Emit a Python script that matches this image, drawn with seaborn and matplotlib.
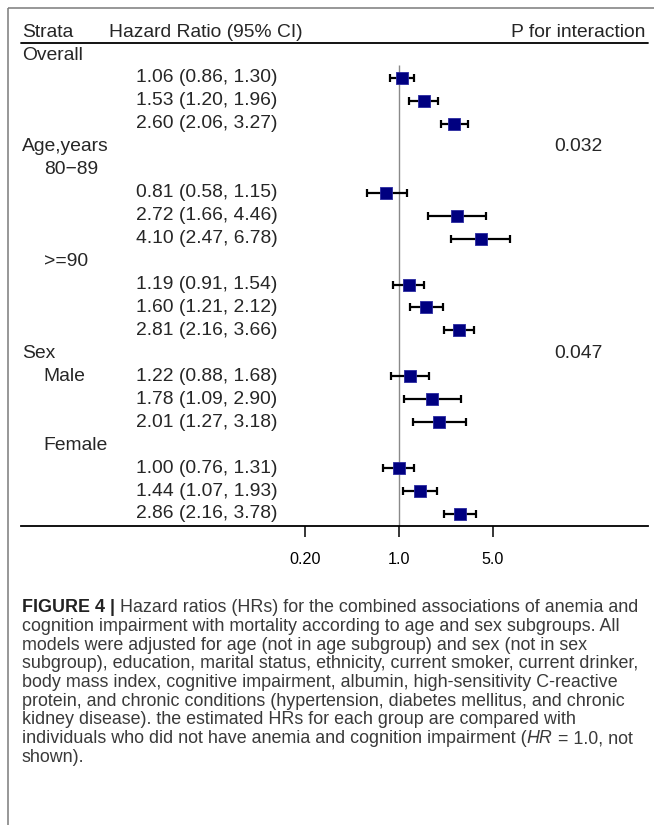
import numpy as np
import matplotlib
matplotlib.use("Agg")
import matplotlib.pyplot as plt
import matplotlib.transforms as mtransforms
from matplotlib.ticker import NullLocator
import seaborn as sns

sns.set_style("white")
plt.rcParams["font.family"] = ["Liberation Sans", "DejaVu Sans"]

# ---------------- data ----------------
row_labels = ["Overall", "", "", "", "Age,years", "80\u221289", "", "", "", ">=90", "", "", "",
              "Sex", "Male", "", "", "Female", "", "", ""]
label_indent = [0, 0, 0, 0, 0, 1, 0, 0, 0, 1, 0, 0, 0, 0, 1, 0, 0, 1, 0, 0, 0]
data_rows = [1, 2, 3, 6, 7, 8, 10, 11, 12, 14, 15, 16, 18, 19, 20]
hr = [1.06, 1.53, 2.60, 0.81, 2.72, 4.10, 1.19, 1.60, 2.81, 1.22, 1.78, 2.01, 1.00, 1.44, 2.86]
lower = [0.86, 1.20, 2.06, 0.58, 1.66, 2.47, 0.91, 1.21, 2.16, 0.88, 1.09, 1.27, 0.76, 1.07, 2.16]
upper = [1.30, 1.96, 3.27, 1.15, 4.46, 6.78, 1.54, 2.12, 3.66, 1.68, 2.90, 3.18, 1.31, 1.93, 3.78]
p_rows = [4, 13]
p_values = ["0.032", "0.047"]
xticks = [0.2, 1.0, 5.0]
xtick_labels = ["0.20", "1.0", "5.0"]
headers = ["Strata", "Hazard Ratio (95% CI)", "P for interaction"]

caption_lines = [
    [("FIGURE 4 |", "bold"), ("Hazard ratios (HRs) for the combined associations of anemia and", "normal")],
    [("cognition impairment with mortality according to age and sex subgroups. All", "normal")],
    [("models were adjusted for age (not in age subgroup) and sex (not in sex", "normal")],
    [("subgroup), education, marital status, ethnicity, current smoker, current drinker,", "normal")],
    [("body mass index, cognitive impairment, albumin, high-sensitivity C-reactive", "normal")],
    [("protein, and chronic conditions (hypertension, diabetes mellitus, and chronic", "normal")],
    [("kidney disease). the estimated HRs for each group are compared with", "normal")],
    [("individuals who did not have anemia and cognition impairment (", "normal"), ("HR", "italic"),
     ("= 1.0, not", "normal")],
    [("shown).", "normal")],
]

# ---------------- layout (pixels) ----------------
W, H = 654, 825
fig = plt.figure(figsize=(W / 100, H / 100), dpi=100)

ax_left, ax_right = 21, 648
ax_bottom_px = 525.5
row0_px, row_step = 55.0, 22.95
x_one_px, px_per_dec = 398.75, 134.2

ax = fig.add_axes([ax_left / W, 1 - ax_bottom_px / H, (ax_right - ax_left) / W, ax_bottom_px / H])
ax.set_xscale("log")
xl = 10 ** ((ax_left - x_one_px) / px_per_dec)
xr = 10 ** ((ax_right - x_one_px) / px_per_dec)
y_bot = (ax_bottom_px - row0_px) / row_step
y_top = (0 - row0_px) / row_step

def fx(px):
    return (px - ax_left) / (ax_right - ax_left)

def rowpx(px):
    return (px - row0_px) / row_step

trans = mtransforms.blended_transform_factory(ax.transAxes, ax.transData)

# reference line at HR = 1
ax.plot([1, 1], [rowpx(65), y_bot], color="#8a8a8a", lw=1.0, zorder=1, solid_capstyle="butt")

# CIs
hr_a, lo_a, hi_a = np.array(hr), np.array(lower), np.array(upper)
ax.errorbar(hr_a, data_rows, xerr=[hr_a - lo_a, hi_a - hr_a], fmt="none", ecolor="black",
            elinewidth=1.6, capsize=2.7, capthick=1.6, zorder=2)
sns.scatterplot(x=hr, y=data_rows, marker="s", s=80, color="#000080", edgecolor="#2a2aa0",
                linewidth=0.6, ax=ax, zorder=3, legend=False)

ax.set_xlim(xl, xr)
ax.set_ylim(y_bot, y_top)
ax.set_xlabel("")
ax.set_ylabel("")
ax.set_xticks(xticks)
ax.set_xticklabels(xtick_labels)
ax.xaxis.set_minor_locator(NullLocator())
ax.set_yticks([])
for s in ["top", "left", "right"]:
    ax.spines[s].set_visible(False)
ax.spines["bottom"].set_linewidth(1.3)
ax.spines["bottom"].set_color("black")
ax.tick_params(axis="x", which="major", bottom=True, length=8, width=1.1, pad=11, labelsize=11.6,
               colors="black", direction="out")
ax.patch.set_alpha(0)

fs = 13.9
# header
ax.text(fx(21.7), rowpx(32.5), headers[0], transform=trans, ha="left", va="center", fontsize=fs)
ax.text(fx(109), rowpx(32.5), headers[1], transform=trans, ha="left", va="center", fontsize=fs)
ax.text(fx(645.5), rowpx(32.5), headers[2], transform=trans, ha="right", va="center", fontsize=fs)
ax.plot([0, 1], [rowpx(42.5)] * 2, transform=trans, color="black", lw=1.3, clip_on=False)

# row labels
for i, (lab, ind) in enumerate(zip(row_labels, label_indent)):
    if lab:
        ax.text(fx(21.7 if ind == 0 else 43.7), i, lab, transform=trans, ha="left", va="center", fontsize=fs)
for r, h, lo, hi in zip(data_rows, hr, lower, upper):
    ax.text(fx(136), r, f"{h:.2f} ({lo:.2f}, {hi:.2f})", transform=trans, ha="left", va="center", fontsize=fs)
for r, p in zip(p_rows, p_values):
    ax.text(fx(578.5), r, p, transform=trans, ha="center", va="center", fontsize=fs)

# ---------------- caption & frame ----------------
cax = fig.add_axes([0, 0, 1, 1], zorder=-1)
cax.set_xlim(0, 1)
cax.set_ylim(0, 1)
cax.axis("off")

frame_col = "#7a7a7a"
cax.plot([7.5 / W, 1], [1 - 8 / H] * 2, color=frame_col, lw=1.1, solid_capstyle="butt")
cax.plot([7.5 / W] * 2, [1 - 8 / H, 0], color=frame_col, lw=1.1, solid_capstyle="butt")

cfs = 12.9
cap_col = "#3a3a3a"
space_pt = 0.278 * cfs
line0_px, line_step = 605.7, 18.72
for li, segs in enumerate(caption_lines):
    cy_px = line0_px + li * line_step
    base = 1 - (cy_px + 0.36 * cfs / 0.72) / H
    prev = None
    for si, (txt, style) in enumerate(segs):
        kw = dict(fontsize=cfs, color=cap_col if style != "bold" else "#222222",
                  fontweight="bold" if style == "bold" else "normal",
                  fontstyle="italic" if style == "italic" else "normal", va="baseline", ha="left")
        if prev is None:
            prev = cax.text(22 / W, base, txt, **kw)
        else:
            gap = space_pt
            if style == "italic":
                gap = 0.2
            prev = cax.annotate(txt, xy=(1, base), xycoords=(prev, "axes fraction"),
                                xytext=(gap, 0), textcoords="offset points", **kw)

fig.savefig("out.png", dpi=100)
